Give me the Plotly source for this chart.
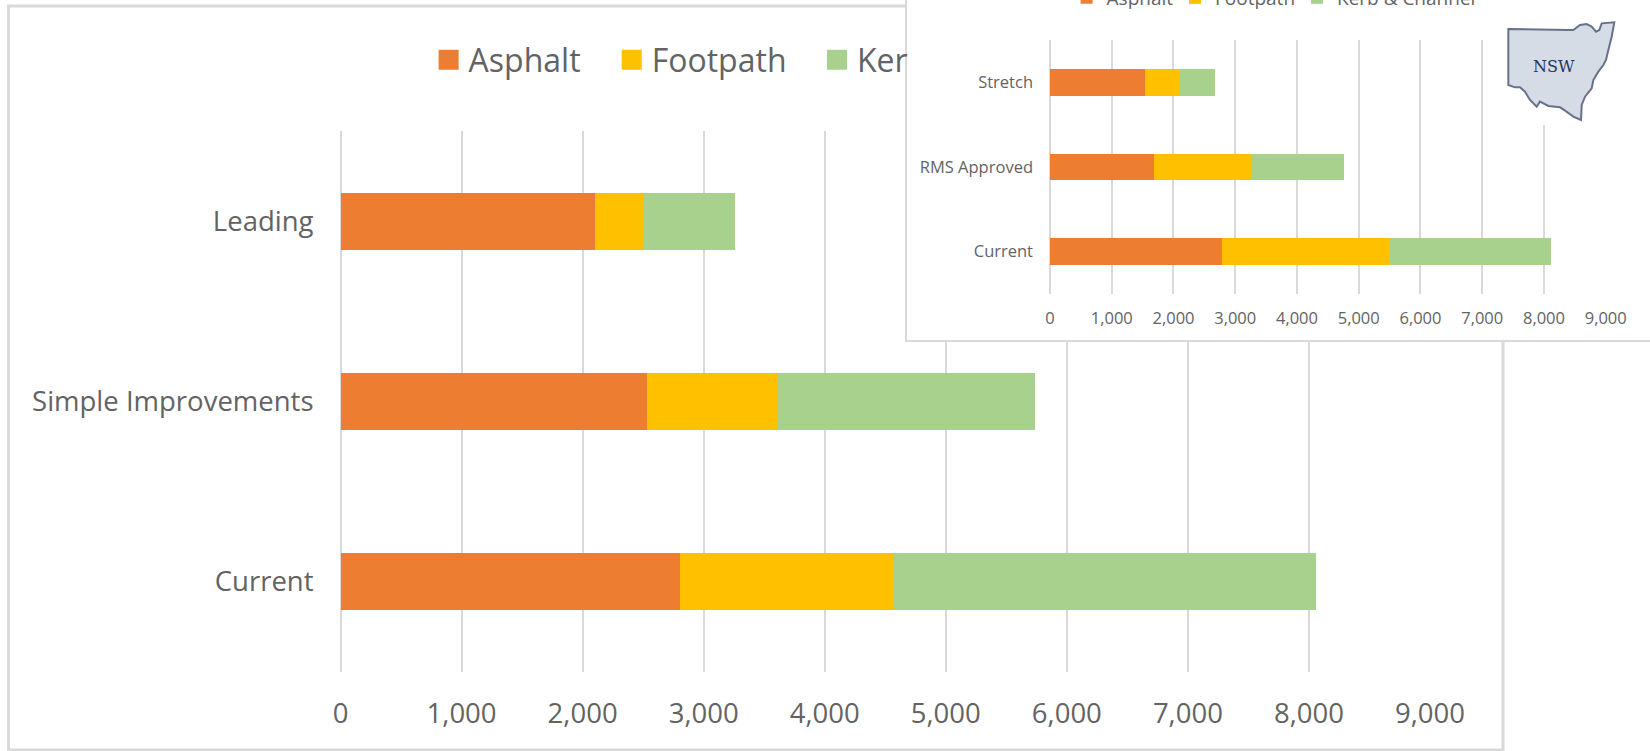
import plotly.graph_objects as go

W, H = 1650, 751
FONT = "Open Sans"
TXT = "#636363"
GRID = "#D9D9D9"
COLORS = ["#ED7D31", "#FFC000", "#A9D18E"]

main_categories = ["Current", "Simple Improvements", "Leading"]
main_asphalt = [2805, 2535, 2100]
main_footpath = [1768, 1078, 400]
main_kerb = [3487, 2127, 760]

inset_categories = ["Current", "RMS Approved", "Stretch"]
inset_asphalt = [2783, 1677, 1537]
inset_footpath = [2725, 1587, 573]
inset_kerb = [2599, 1502, 565]

series_names = ["Asphalt", "Footpath", "Kerb & Channel"]
# the inset panel covers the rest of the main chart's third legend label
main_legend_names = ["Asphalt", "Footpath", "Ker"]
main_legend_left = [428.6, 611.7, 817]
inset_legend_left = [1066.6, 1175, 1297]


def fx(p):
    return p / W


def fy(p):
    return 1 - p / H


fig = go.Figure()

for name, vals, col in zip(series_names, [main_asphalt, main_footpath, main_kerb], COLORS):
    fig.add_bar(y=main_categories, x=vals, name=name, orientation="h", marker=dict(color=col, line=dict(width=0)),
                xaxis="x", yaxis="y", showlegend=False)
for i, (name, col) in enumerate(zip(main_legend_names, COLORS)):
    fig.add_scatter(x=[None], y=[None], mode="markers", name=name, xaxis="x", yaxis="y", showlegend=True,
                    marker=dict(symbol="square", size=16, color=col, line=dict(color=col, width=4)),
                    legend=f"legend{i + 1}" if i else "legend")
# empty panel that hides the main gridlines behind the inset
fig.add_scatter(x=[None], y=[None], xaxis="x2", yaxis="y2", showlegend=False, mode="markers")
for i, (name, vals, col) in enumerate(zip(series_names, [inset_asphalt, inset_footpath, inset_kerb], COLORS)):
    fig.add_bar(y=inset_categories, x=vals, name=name, orientation="h", marker=dict(color=col, line=dict(width=0)),
                xaxis="x3", yaxis="y3", showlegend=True, legend=f"legend{i + 4}")

logo_pts = [(85, 87), (265, 90), (280, 90), (300, 75), (320, 72), (335, 80), (348, 95), (358, 90),
            (365, 70), (403, 67), (395, 110), (385, 150), (378, 180), (370, 195), (355, 215),
            (340, 240), (335, 265), (315, 290), (305, 315), (303, 360), (280, 350), (250, 328),
            (240, 322), (205, 318), (180, 305), (170, 320), (150, 300), (135, 275), (120, 262),
            (105, 262), (85, 255)]
logo_path = "M" + " L".join(f"{fx(1480 + a / 3):.5f},{fy(b / 3):.5f}" for a, b in logo_pts) + " Z"

shapes = [
    dict(type="rect", xref="paper", yref="paper", layer="below",
         x0=fx(8.5), x1=fx(1503), y0=fy(750), y1=fy(6), line=dict(color=GRID, width=3), fillcolor="white"),
    dict(type="rect", xref="paper", yref="paper", layer="above",
         x0=fx(1490), x1=fx(1650), y0=fy(125), y1=fy(12), line=dict(width=0), fillcolor="white"),
    dict(type="path", xref="paper", yref="paper", layer="above", path=logo_path,
         fillcolor="#D6DCE5", line=dict(color="#67718A", width=2)),
]

hidden = dict(showgrid=False, zeroline=False, showticklabels=False, ticks="")


def legend_box(left, centre, size):
    return dict(x=fx(left), y=fy(centre), xanchor="left", yanchor="middle", bgcolor="rgba(0,0,0,0)",
                font=dict(size=size, color=TXT), itemwidth=30, itemclick=False, itemdoubleclick=False)


legends = {}
for i, left in enumerate(main_legend_left):
    legends[f"legend{i + 1}" if i else "legend"] = legend_box(left, 60, 32)
for i, left in enumerate(inset_legend_left):
    legends[f"legend{i + 4}"] = legend_box(left, -2, 19)

fig.update_layout(
    width=W, height=H, autosize=False,
    margin=dict(l=0, r=0, t=0, b=0, autoexpand=False),
    paper_bgcolor="white", plot_bgcolor="white",
    barmode="stack", bargap=0.685,
    font=dict(family=FONT, color=TXT),
    shapes=shapes,
    xaxis=dict(domain=[fx(340.5), fx(1430)], range=[0, 9000], dtick=1000, tickformat=",d", anchor="y",
               showgrid=True, gridcolor=GRID, gridwidth=2, zeroline=True, zerolinecolor=GRID, zerolinewidth=2,
               showline=False, ticks="", ticklabelstandoff=22, tickfont=dict(size=27.5, color=TXT)),
    yaxis=dict(domain=[fy(672), fy(131)], range=[-0.5, 2.5], type="category", anchor="x",
               categoryorder="array", categoryarray=main_categories,
               showgrid=False, zeroline=False, showline=False, ticks="",
               ticklabelstandoff=26, tickfont=dict(size=27.5, color=TXT)),
    xaxis2=dict(domain=[fx(906.5), 1], range=[0, 1], anchor="y2", showline=True, linecolor=GRID, linewidth=2, **hidden),
    yaxis2=dict(domain=[fy(340), 1], range=[0, 1], anchor="x2", showline=True, linecolor=GRID, linewidth=2, **hidden),
    xaxis3=dict(domain=[fx(1050), fx(1605.7)], range=[0, 9000], dtick=1000, tickformat=",d", anchor="y3",
                showgrid=True, gridcolor=GRID, gridwidth=2, zeroline=True, zerolinecolor=GRID, zerolinewidth=2,
                showline=False, ticks="", ticklabelstandoff=12, tickfont=dict(size=16.5, color=TXT)),
    yaxis3=dict(domain=[fy(294), fy(40)], range=[-0.5, 2.5], type="category", anchor="x3",
                categoryorder="array", categoryarray=inset_categories,
                showgrid=False, zeroline=False, showline=False, ticks="",
                ticklabelstandoff=16, tickfont=dict(size=16.5, color=TXT)),
    annotations=[dict(text="NSW", xref="paper", yref="paper", x=fx(1554), y=fy(66.5), showarrow=False,
                      xanchor="center", yanchor="middle",
                      font=dict(family="DejaVu Serif", size=16, color="#1F3864"))],
    **legends,
)

fig.write_html("out.html", config={"displayModeBar": False}, post_script="document.body.style.margin='0';")
